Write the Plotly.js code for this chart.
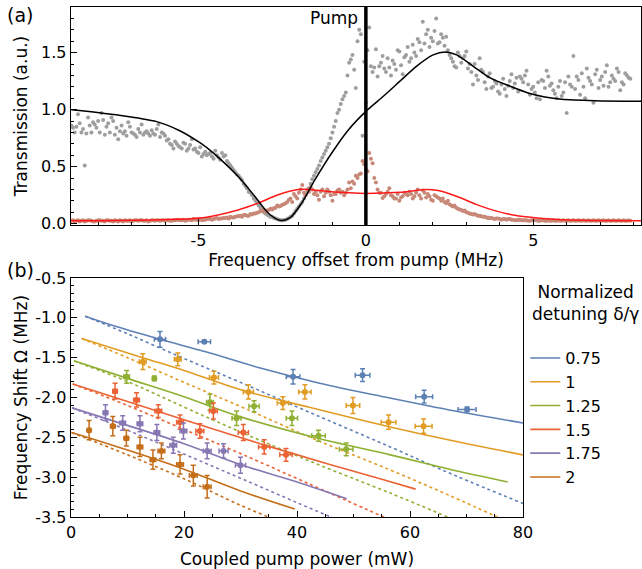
<!DOCTYPE html>
<html>
<head>
<meta charset="utf-8">
<script src="https://cdn.plot.ly/plotly-3.0.1.min.js"></script>
<style>html,body{margin:0;padding:0;background:#fff;}#chart{width:642px;height:569px;}</style>
</head>
<body>
<div id="chart"></div>
<script>
// ---------- Panel (a) data ----------
// measured transmission; two interleaved sample sets, every 0.1 MHz
const probeStartA = -8.8;
const probeStartB = -8.75;
const probeStep = 0.1;
const grayDataA = [
  0.86,0.80,0.96,0.80,0.51,0.93,0.80,0.87,0.90,0.97,
  0.78,0.88,0.93,0.78,0.74,0.86,0.81,0.89,0.80,0.78,
  0.83,0.87,0.80,0.79,0.82,0.78,0.87,0.80,0.77,0.74,
  0.69,0.72,0.68,0.66,0.70,0.66,0.74,0.66,0.62,0.59,
  0.63,0.61,0.59,0.64,0.58,0.62,0.60,0.53,0.49,0.45,
  0.42,0.38,0.33,0.28,0.25,0.20,0.16,0.12,0.09,0.07,
  0.06,0.045,0.035,0.03,0.035,0.05,0.07,0.11,0.15,0.19,
  0.25,0.31,0.39,0.45,0.51,0.58,0.64,0.70,0.80,0.90,
  1.00,1.09,1.15,1.41,1.48,1.19,1.70,0.77,1.06,1.72,
  1.33,1.53,1.38,1.47,1.33,1.37,1.43,1.35,1.51,1.31,
  1.48,1.42,1.57,1.47,1.59,1.77,1.66,1.55,1.60,1.80,
  1.59,1.63,1.64,1.48,1.42,1.37,1.47,1.45,1.51,1.40,
  1.22,1.30,1.45,1.33,1.18,1.32,1.20,1.23,1.14,1.27,
  1.12,1.25,1.19,1.28,1.29,1.24,1.34,1.13,1.20,1.10,
  1.09,1.25,1.34,1.21,1.17,1.10,1.25,1.15,0.97,1.22,
  1.47,1.29,1.13,1.20,1.36,1.25,1.06,1.35,1.26,1.21,
  1.39,1.24,1.27,1.36,1.17,1.22,1.30,1.27
];
const grayDataB = [
  0.84,0.85,0.88,0.83,0.79,0.86,0.89,0.84,0.80,0.91,
  0.85,0.80,0.90,0.84,0.81,0.79,0.77,0.85,0.79,0.76,
  0.80,0.78,0.81,0.77,0.79,0.83,0.76,0.79,0.73,0.70,
  0.66,0.70,0.67,0.71,0.64,0.69,0.65,0.63,0.67,0.61,
  0.60,0.62,0.57,0.60,0.56,0.59,0.55,0.51,0.47,0.43,
  0.40,0.35,0.31,0.27,0.22,0.18,0.14,0.10,0.08,0.06,
  0.05,0.04,0.03,0.03,0.04,0.06,0.09,0.13,0.17,0.22,
  0.28,0.35,0.42,0.48,0.55,0.61,0.67,0.75,0.85,0.97,
  1.05,1.12,1.30,1.44,1.35,1.60,1.66,1.42,1.52,1.38,
  1.37,1.29,1.41,1.36,1.45,1.30,1.40,1.52,1.39,1.46,
  1.55,1.45,1.50,1.62,1.52,1.58,1.70,1.63,1.69,1.58,
  1.66,1.56,1.52,1.45,1.38,1.50,1.41,1.47,1.36,1.33,
  1.40,1.26,1.35,1.24,1.29,1.19,1.25,1.16,1.22,1.18,
  1.21,1.31,1.23,1.16,1.27,1.30,1.22,1.18,1.15,1.24,
  1.26,1.19,1.29,1.23,1.14,1.20,1.12,1.24,1.29,1.20,
  1.18,1.26,1.32,1.10,1.28,1.22,1.31,1.19,1.29,1.33,
  1.20,1.30,1.25,1.33,1.24,1.32,1.28
];
const pinkDataA = [
  0.025,0.02,0.03,0.025,0.02,0.03,0.025,0.02,0.03,0.025,
  0.02,0.03,0.025,0.03,0.02,0.025,0.03,0.025,0.02,0.03,
  0.025,0.03,0.025,0.02,0.03,0.025,0.03,0.03,0.025,0.03,
  0.025,0.03,0.035,0.03,0.025,0.035,0.03,0.035,0.03,0.03,
  0.035,0.04,0.035,0.045,0.04,0.045,0.05,0.045,0.055,0.06,
  0.065,0.06,0.075,0.07,0.08,0.09,0.10,0.11,0.105,0.12,
  0.125,0.14,0.15,0.165,0.18,0.21,0.19,0.24,0.27,0.34,
  0.25,0.28,0.30,0.28,0.21,0.30,0.27,0.28,0.20,0.26,
  0.30,0.28,0.27,0.36,0.37,0.42,0.43,0.55,0.48,0.62,
  0.53,0.36,0.27,0.225,0.26,0.31,0.24,0.22,0.20,0.24,
  0.26,0.28,0.22,0.27,0.25,0.29,0.23,0.24,0.20,0.24,
  0.22,0.22,0.18,0.17,0.15,0.14,0.125,0.11,0.10,0.09,
  0.08,0.075,0.07,0.06,0.055,0.05,0.045,0.045,0.04,0.04,
  0.035,0.04,0.035,0.03,0.035,0.03,0.03,0.025,0.03,0.03,
  0.025,0.03,0.025,0.025,0.03,0.025,0.025,0.03,0.025,0.025,
  0.03,0.025,0.025,0.03,0.025,0.025,0.03,0.025,0.025,0.03,
  0.025,0.025,0.03,0.025,0.025,0.03,0.025,0.025
];
const pinkDataB = [
  0.03,0.025,0.02,0.03,0.025,0.03,0.02,0.025,0.03,0.025,
  0.03,0.025,0.02,0.025,0.03,0.02,0.025,0.03,0.025,0.03,
  0.03,0.025,0.03,0.025,0.03,0.03,0.025,0.03,0.03,0.025,
  0.03,0.035,0.03,0.035,0.03,0.035,0.04,0.035,0.04,0.035,
  0.04,0.045,0.04,0.05,0.045,0.05,0.055,0.06,0.055,0.065,
  0.07,0.075,0.07,0.085,0.09,0.095,0.11,0.12,0.115,0.13,
  0.135,0.16,0.155,0.17,0.19,0.22,0.26,0.22,0.30,0.27,
  0.30,0.32,0.26,0.25,0.28,0.24,0.30,0.25,0.26,0.29,
  0.27,0.25,0.30,0.31,0.35,0.40,0.44,0.52,0.46,0.57,
  0.40,0.30,0.27,0.24,0.28,0.25,0.22,0.26,0.23,0.27,
  0.25,0.26,0.24,0.30,0.22,0.27,0.26,0.21,0.25,0.23,
  0.20,0.19,0.20,0.16,0.16,0.13,0.12,0.115,0.095,0.085,
  0.085,0.07,0.065,0.06,0.05,0.05,0.04,0.045,0.035,0.04,
  0.04,0.035,0.03,0.035,0.03,0.03,0.025,0.03,0.03,0.025,
  0.03,0.025,0.03,0.025,0.025,0.03,0.025,0.025,0.03,0.025,
  0.025,0.03,0.025,0.025,0.03,0.025,0.025,0.03,0.025,0.025,
  0.03,0.025,0.025,0.03,0.025,0.025,0.03
];
// fitted curves
const blackFitX = [-8.8,-7.45,-6.25,-5.56,-4.96,-4.66,-4.31,-3.82,-3.32,-2.92,-2.57,-2.27,-1.92,-1.52,-1.02,-0.53,0,0.52,1.02,1.51,2.01,2.36,2.71,3.21,3.7,4.35,4.85,5.35,5.85,6.84,8.22];
const blackFitY = [1.0,0.955,0.895,0.815,0.71,0.645,0.555,0.415,0.24,0.094,0.03,0.05,0.18,0.386,0.62,0.82,0.985,1.117,1.25,1.38,1.48,1.506,1.48,1.38,1.28,1.2,1.146,1.11,1.09,1.078,1.073];
const redFitX = [-8.8,-6.15,-4.81,-3.82,-3.22,-2.62,-2.02,-1.72,-1.13,-0.5,0,1.02,1.81,2.16,2.71,3.31,3.9,4.35,4.85,5.85,8.22];
const redFitY = [0.025,0.035,0.055,0.12,0.18,0.254,0.30,0.30,0.283,0.27,0.265,0.275,0.30,0.29,0.24,0.167,0.11,0.079,0.059,0.035,0.026];

// ---------- Panel (b) data ----------
const detunings = ['0.75','1','1.25','1.5','1.75','2'];
const colors = ['#5E81B5','#E19C24','#8FB032','#EB6235','#8778B3','#C56E1A'];

const pointsX = [
  [15.75,23.6,39.3,51.6,62.5,70.1],
  [12.7,18.9,25.3,31.4,37.5,41.4,49.9,56.2,62.4],
  [9.85,14.75,24.6,29.3,32.4,39.1,43.8,48.7],
  [7.8,11.6,15.45,19.3,22.8,25.2,30.5,34.2,38.05],
  [6.1,9.15,12.2,15.2,18.1,19.9,24.1,27.0,30.0],
  [3.2,7.4,9.8,12.2,14.5,16.0,19.3,21.65,24.1]
];
const pointsY = [
  [-1.27,-1.30,-1.74,-1.72,-1.99,-2.15],
  [-1.55,-1.52,-1.75,-1.93,-2.07,-1.93,-2.10,-2.31,-2.36],
  [-1.74,-1.76,-2.06,-2.26,-2.11,-2.26,-2.48,-2.65],
  [-1.92,-2.03,-2.17,-2.31,-2.42,-2.17,-2.44,-2.62,-2.72],
  [-2.19,-2.32,-2.33,-2.44,-2.60,-2.42,-2.67,-2.67,-2.85],
  [-2.41,-2.36,-2.51,-2.62,-2.78,-2.67,-2.84,-2.98,-3.12]
];
const errX = [
  [1.0,1.1,1.2,1.3,1.5,1.6],
  [0.6,0.6,0.8,0.9,1.0,1.1,1.2,1.3,1.5],
  [0.5,0.3,0.6,0.8,0.9,1.0,1.2,1.2],
  [0.4,0.5,0.6,0.6,0.7,0.7,0.9,1.0,1.1],
  [0.4,0.5,0.5,0.5,0.6,0.6,0.7,0.8,0.9],
  [0.3,0.4,0.4,0.5,0.5,0.6,0.6,0.7,0.7]
];
const errY = [
  [0.1,0.02,0.09,0.08,0.08,0.03],
  [0.1,0.08,0.08,0.09,0.08,0.09,0.1,0.09,0.09],
  [0.08,0.03,0.1,0.09,0.07,0.09,0.07,0.08],
  [0.1,0.09,0.08,0.09,0.09,0.1,0.1,0.09,0.08],
  [0.1,0.09,0.1,0.1,0.1,0.1,0.1,0.09,0.1],
  [0.12,0.12,0.1,0.12,0.12,0.1,0.12,0.13,0.14]
];
const solidX = [
  [2.5,8,15.75,24,33.5,44,56,68,80],
  [1.9,12.7,20,29.9,42,56.5,68,80],
  [0.5,10,20,29.9,43,56.5,67,77.3],
  [0.3,10,20,33.5,45.8,54.7,61],
  [0.2,10,20,29.9,40,48.8],
  [0.1,10,20,29.9,39.6]
];
const solidY = [
  [-0.98,-1.11,-1.27,-1.43,-1.63,-1.82,-2.0,-2.17,-2.32],
  [-1.26,-1.50,-1.66,-1.90,-2.12,-2.37,-2.55,-2.72],
  [-1.54,-1.76,-1.99,-2.24,-2.50,-2.72,-2.90,-3.06],
  [-1.83,-2.05,-2.28,-2.58,-2.84,-3.02,-3.15],
  [-2.13,-2.35,-2.58,-2.84,-3.06,-3.27],
  [-2.44,-2.66,-2.90,-3.17,-3.40]
];
const dottedX = [
  [2.5,10,20,30,43,56.5,68,80],
  [1.9,10,20,29.9,43,56.5,67,77],
  [0.5,10,20,29.9,43,56.5,67],
  [0.3,10,20,29.9,42,56],
  [0.2,10,20,29.9,40,47],
  [0.1,10,20,29.9,36]
];
const dottedY = [
  [-0.98,-1.20,-1.51,-1.81,-2.21,-2.62,-2.98,-3.33],
  [-1.26,-1.50,-1.81,-2.11,-2.52,-2.91,-3.23,-3.55],
  [-1.54,-1.80,-2.12,-2.43,-2.82,-3.20,-3.51],
  [-1.83,-2.10,-2.40,-2.70,-3.08,-3.52],
  [-2.13,-2.41,-2.71,-3.01,-3.32,-3.53],
  [-2.44,-2.72,-3.02,-3.35,-3.53]
];
const yTicksB = [-3.5,-3.0,-2.5,-2.0,-1.5,-1.0,-0.5];
const yTickTextB = ['-3.5','-3.0','-2.5','-2.0','-1.5','-1.0','-0.5'];
const xTicksA = [-5,0,5];
const xTickTextA = ['-5','0','5'];

// ---------- traces ----------
const grayColor = 'rgb(158,158,158)';
const pinkColor = 'rgb(200,136,120)';
const traces = [];
[[probeStartA,grayDataA,grayColor],[probeStartB,grayDataB,grayColor],
 [probeStartA,pinkDataA,pinkColor],[probeStartB,pinkDataB,pinkColor]].forEach(function(s){
  traces.push({type:'scatter',mode:'markers',x0:s[0],dx:probeStep,y:s[1],xaxis:'x',yaxis:'y',
    marker:{color:s[2],size:4},showlegend:false,hoverinfo:'skip'});
});
traces.push({type:'scatter',mode:'lines',x:redFitX,y:redFitY,xaxis:'x',yaxis:'y',
  line:{color:'#ff1a1a',width:1.5,shape:'spline',smoothing:0.8},showlegend:false});
traces.push({type:'scatter',mode:'lines',x:blackFitX,y:blackFitY,xaxis:'x',yaxis:'y',
  line:{color:'#000',width:1.5,shape:'spline',smoothing:0.8},showlegend:false});

for (let i=0;i<detunings.length;i++){
  traces.push({type:'scatter',mode:'lines',x:dottedX[i],y:dottedY[i],xaxis:'x2',yaxis:'y2',
    line:{color:colors[i],width:1.6,dash:'dot',shape:'spline'},showlegend:false});
}
for (let i=0;i<detunings.length;i++){
  traces.push({type:'scatter',mode:'lines',name:detunings[i],x:solidX[i],y:solidY[i],xaxis:'x2',yaxis:'y2',
    line:{color:colors[i],width:1.6,shape:'spline'},showlegend:true});
}
for (let i=0;i<detunings.length;i++){
  traces.push({type:'scatter',mode:'markers',x:pointsX[i],y:pointsY[i],xaxis:'x2',yaxis:'y2',
    marker:{color:colors[i],size:6},
    error_x:{type:'data',array:errX[i],color:colors[i],thickness:1.5,width:2.5},
    error_y:{type:'data',array:errY[i],color:colors[i],thickness:1.5,width:2.5},
    showlegend:false});
}

const font = {family:'DejaVu Sans, Verdana, sans-serif',color:'#000'};
const axBase = {showline:true,mirror:true,linecolor:'#000',linewidth:1.3,showgrid:false,zeroline:false,
  ticks:'inside',ticklen:6,tickwidth:1,tickcolor:'#000',tickfont:{size:16},automargin:false};

const layout = {
  width:642,height:569,
  margin:{l:71,r:1,t:7,b:52},
  paper_bgcolor:'#fff',plot_bgcolor:'#fff',
  font:font,
  xaxis:Object.assign({},axBase,{domain:[0,1],anchor:'y',range:[-8.81,8.22],
    tickmode:'array',tickvals:xTicksA,ticktext:xTickTextA,
    minor:{tickmode:'linear',tick0:0,dtick:1,ticks:'inside',ticklen:3,tickcolor:'#000'},
    title:{text:'Frequency offset from pump (MHz)',font:{size:17},standoff:1}}),
  yaxis:Object.assign({},axBase,{domain:[0.5725,1],anchor:'x',range:[-0.012,1.9],
    tickmode:'linear',tick0:0,dtick:0.5,tickformat:'.1f',
    minor:{tickmode:'linear',tick0:0,dtick:0.1,ticks:'inside',ticklen:3,tickcolor:'#000'},
    title:{text:'Transmission (a.u.)',font:{size:17}}}),
  xaxis2:Object.assign({},axBase,{domain:[0,0.793],anchor:'y2',range:[0,80],
    tickmode:'linear',tick0:0,dtick:20,
    minor:{tickmode:'linear',tick0:0,dtick:5,ticks:'inside',ticklen:3,tickcolor:'#000'},
    title:{text:'Coupled pump power (mW)',font:{size:17}}}),
  yaxis2:Object.assign({},axBase,{domain:[0,0.4686],anchor:'x2',range:[-3.5,-0.5],
    tickmode:'array',tickvals:yTicksB,ticktext:yTickTextB,
    minor:{tickmode:'linear',tick0:0,dtick:0.1,ticks:'inside',ticklen:3,tickcolor:'#000'},
    title:{text:'Frequency Shift Ω (MHz)',font:{size:17}}}),
  legend:{x:0.797,y:0.345,xanchor:'left',yanchor:'top',font:{size:16},bgcolor:'rgba(0,0,0,0)'},
  shapes:[{type:'line',xref:'x',yref:'y domain',x0:0,x1:0,y0:0,y1:1,line:{color:'#000',width:3.5}}],
  annotations:[
    {text:'Pump',xref:'x',yref:'y',x:0,y:1.80,xanchor:'right',yanchor:'middle',xshift:-6,showarrow:false,font:{size:17}},
    {text:'(a)',xref:'paper',yref:'paper',x:-0.116,y:0.984,xanchor:'left',yanchor:'middle',showarrow:false,font:{size:19}},
    {text:'(b)',xref:'paper',yref:'paper',x:-0.116,y:0.484,xanchor:'left',yanchor:'middle',showarrow:false,font:{size:19}},
    {text:'Normalized<br>detuning δ/γ',xref:'paper',yref:'paper',x:0.902,y:0.4196,xanchor:'center',yanchor:'middle',align:'center',showarrow:false,font:{size:17}}
  ]
};

Plotly.newPlot('chart',traces,layout,{staticPlot:true,displayModeBar:false});
</script>
</body>
</html>
